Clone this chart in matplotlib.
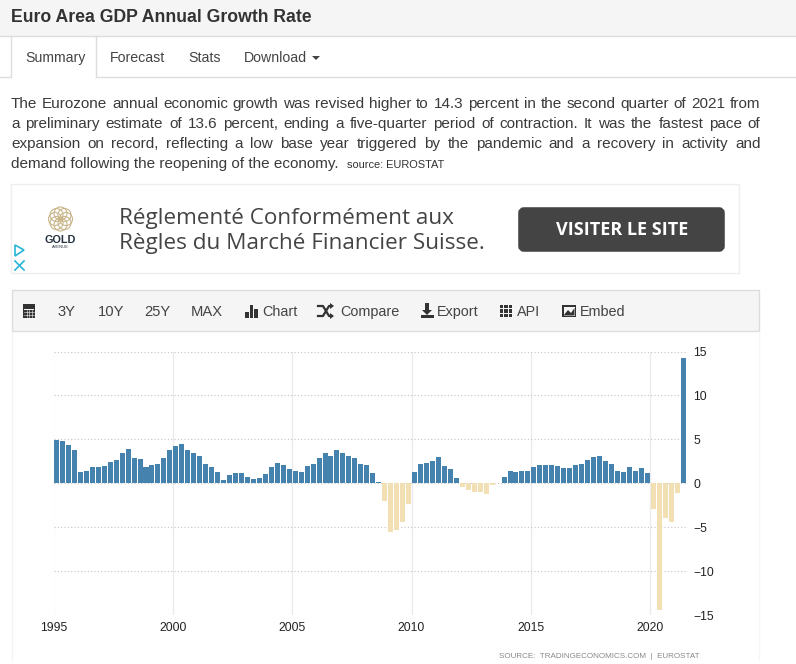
import matplotlib
matplotlib.use('Agg')
import matplotlib.pyplot as plt
from matplotlib.patches import Rectangle, FancyBboxPatch, Polygon, Circle

plt.rcParams['font.family'] = ['Liberation Sans', 'DejaVu Sans']

W, H = 796, 664

# quarterly growth, 1995Q1 to 2021Q2
growth = [
    4.9, 4.85, 4.4, 3.8, 1.3, 1.45, 1.8, 1.9,
    2.0, 2.45, 2.7, 3.4, 3.85, 2.9, 2.8, 1.9,
    2.1, 2.2, 2.9, 3.8, 4.2, 4.5, 3.8, 3.4,
    3.15, 2.2, 1.9, 1.3, 0.4, 0.9, 1.2, 1.2,
    0.75, 0.45, 0.55, 1.0, 1.9, 2.35, 2.1, 1.65,
    1.45, 1.3, 2.0, 2.15, 2.9, 3.4, 3.15, 3.8,
    3.5, 3.05, 2.9, 2.2, 2.1, 1.15, 0.1, -2.05,
    -5.5, -5.3, -4.45, -2.4, 1.25, 2.15, 2.3, 2.5,
    2.95, 1.95, 1.6, 0.55, -0.45, -0.8, -1.0, -1.0,
    -1.2, -0.25, 0.0, 0.7, 1.45, 1.25, 1.35, 1.45,
    1.8, 2.05, 2.05, 2.05, 1.95, 1.7, 1.7, 2.05,
    2.15, 2.7, 2.95, 3.05, 2.5, 2.15, 1.45, 1.25,
    1.8, 1.45, 1.7, 1.15, -2.9, -14.4, -3.95, -4.4,
    -1.15, 14.3,
]
year_ticks = [1995, 2000, 2005, 2010, 2015, 2020]
value_ticks = [-15, -10, -5, 0, 5, 10, 15]

title = 'Euro Area GDP Annual Growth Rate'
tabs = ['Summary', 'Forecast', 'Stats', 'Download']
body_lines = [
    'The Eurozone annual economic growth was revised higher to 14.3 percent in the second quarter of 2021 from',
    'a preliminary estimate of 13.6 percent, ending a five-quarter period of contraction. It was the fastest pace of',
    'expansion on record, reflecting a low base year triggered by the pandemic and a recovery in activity and',
]
body_last = 'demand following the reopening of the economy.'
ad_lines = ['Réglementé Conformément aux', 'Règles du Marché Financier Suisse.']

fig = plt.figure(figsize=(W / 100, H / 100), dpi=100, facecolor='white')

# page chrome lives on one axes in pixel coordinates
page = fig.add_axes([0, 0, 1, 1])
page.set_xlim(0, W)
page.set_ylim(H, 0)
page.axis('off')


def box(x0, y0, x1, y1, fc='white', ec='none', lw=1, **kw):
    page.add_patch(Rectangle((x0, y0), x1 - x0, y1 - y0, fc=fc, ec=ec, lw=lw, **kw))


def label(x, y, s, size=10.3, color='#333333', **kw):
    kw.setdefault('va', 'center')
    return page.text(x, y, s, fontsize=size, color=color, **kw)


# header and tabs
box(0, 0, W, 36, fc='#f5f5f5')
page.plot([0, W], [36, 36], color='#dddddd', lw=1)
label(11, 17.5, title, size=12.7, weight='bold')
page.plot([0, 11, 11], [77, 77, 36], color='#dddddd', lw=1)
page.plot([96, 96], [36, 77], color='#dddddd', lw=1)
page.plot([96, W], [77, 77], color='#dddddd', lw=1)
for x, s in zip([25, 110, 188, 244], tabs):
    label(x, 58, s, size=10.2, color='#444444')
page.add_patch(Polygon([[312, 56], [320, 56], [316, 60]], fc='#444444', ec='none'))

# justified paragraph
fig.canvas.draw()
rend = fig.canvas.get_renderer()
for row, line in enumerate(body_lines):
    words = line.split(' ')
    arts = [label(0, 104 + row * 20, w, size=11.0, color='#3a3a3a') for w in words]
    widths = [a.get_window_extent(rend).width for a in arts]
    gap = (760.5 - 11 - sum(widths)) / (len(words) - 1)
    x = 11
    for a, w in zip(arts, widths):
        a.set_x(x)
        x += w + gap
label(11, 164, body_last, size=11.0, color='#3a3a3a')
label(347, 165, 'source: EUROSTAT', size=7.9, color='#333333')

# ad block
box(11, 184, 738.5, 273, ec='#eeeeee')
for dx, dy in [(-4, -4), (4, -4), (-4, 4), (4, 4), (0, -5.5), (0, 5.5), (-5.5, 0), (5.5, 0)]:
    page.add_patch(Circle((60.5 + dx, 219 + dy), 6.5, fc='none', ec='#c9b68a', lw=0.8))
label(60.5, 240, 'GOLD', size=7.8, color='#26323f', ha='center', weight='bold')
label(60.5, 247.5, 'AVENUE', size=3, color='#26323f', ha='center')
for i, s in enumerate(ad_lines):
    label(119, 218.5 + i * 25, s, size=16.2, color='#444444', family='Open Sans')
page.add_patch(FancyBboxPatch((521, 210), 201, 39, boxstyle='round,pad=0,rounding_size=3',
                              fc='#444444', ec='#444444', lw=4))
label(622, 230, 'VISITER LE SITE', size=13, color='white', ha='center', weight='bold', family='Open Sans')
page.add_patch(Polygon([[15, 245], [24, 250], [15, 256]], fc='none', ec='#27b5d6', lw=1.2))
page.plot([15, 24], [261, 270], color='#27b5d6', lw=1.2)
page.plot([15, 24], [270, 261], color='#27b5d6', lw=1.2)

# toolbar
box(12, 290, 759, 331, fc='#f5f5f5', ec='#dddddd')
page.plot([12, 12], [332, 660], color='#f4f4f4', lw=1)
page.plot([759, 759], [332, 660], color='#f7f7f7', lw=1)
for x, s in zip([58, 98, 144, 191], ['3Y', '10Y', '25Y', 'MAX']):
    label(x, 312, s, size=10.6, color='#444444')
for x, s in zip([262, 340, 437, 517, 580], ['Chart', 'Compare', 'Export', 'API', 'Embed']):
    label(x, 312, s, size=10.4, color='#444444')
ic = '#333333'
# calendar
box(23, 304, 35, 318, fc=ic)
box(24, 308.5, 34, 309.5, fc='#f5f5f5')
for y in [312, 315]:
    page.plot([24, 34], [y, y], color='#f5f5f5', lw=0.4)
for x in [26.5, 29, 31.5]:
    page.plot([x, x], [310, 317], color='#f5f5f5', lw=0.4)
# bars
for x0, top in [(245, 312), (249.5, 305), (254, 309)]:
    box(x0, top, x0 + 3.5, 318, fc=ic)
# shuffle arrows
page.plot([318, 323, 329, 331], [306, 306, 316, 316], color=ic, lw=1.6)
page.plot([318, 323, 329, 331], [316, 316, 306, 306], color=ic, lw=1.6)
page.add_patch(Polygon([[330, 303], [334, 306], [330, 309]], fc=ic))
page.add_patch(Polygon([[330, 313], [334, 316], [330, 319]], fc=ic))
# download
box(425, 303, 429, 310, fc=ic)
page.add_patch(Polygon([[422, 310], [432, 310], [427, 315]], fc=ic))
box(420.5, 315, 433.5, 318, fc=ic)
# api grid
for ix in range(3):
    for iy in range(3):
        box(499.5 + ix * 4.5, 304.5 + iy * 4.5, 503 + ix * 4.5, 308 + iy * 4.5, fc=ic)
# image
box(562, 305, 576, 317, fc=ic)
box(563.5, 306.5, 574.5, 315.5, fc='#f5f5f5')
page.add_patch(Polygon([[563.5, 315.5], [568, 310], [571, 313], [574.5, 308], [574.5, 315.5]], fc=ic))

label(499, 657, 'SOURCE:  TRADINGECONOMICS.COM  |  EUROSTAT', size=5.75, color='#888888')

# chart
px_left, px_right, px_top, px_bottom = 53.5, 688, 351.5, 615
ax = fig.add_axes([px_left / W, 1 - px_bottom / H, (px_right - px_left) / W, (px_bottom - px_top) / H])
ax.patch.set_alpha(0)
xs = [1995.125 + i / 4 for i in range(len(growth))]
colors = ['#4682ae' if v >= 0 else '#f2dfb4' for v in growth]
ax.bar(xs, growth, width=0.21, color=colors, zorder=3)
ax.set_xlim(1995, 1995 + (px_right - px_left) / 23.87)
ax.set_ylim(-15, 15)
ax.set_xticks(year_ticks)
ax.set_yticks(value_ticks)
ax.yaxis.tick_right()
ax.tick_params(length=0, labelsize=8.7, colors='#222222')
ax.tick_params(axis='y', pad=4)
ax.tick_params(axis='x', pad=5)
ax.grid(axis='x', color='#ebebeb', lw=1, zorder=0)
ax.grid(axis='y', color='#c4c4c4', lw=0.8, linestyle=(0, (1, 2)), zorder=0)
for s in ax.spines.values():
    s.set_visible(False)

fig.savefig('out.png', dpi=100)
